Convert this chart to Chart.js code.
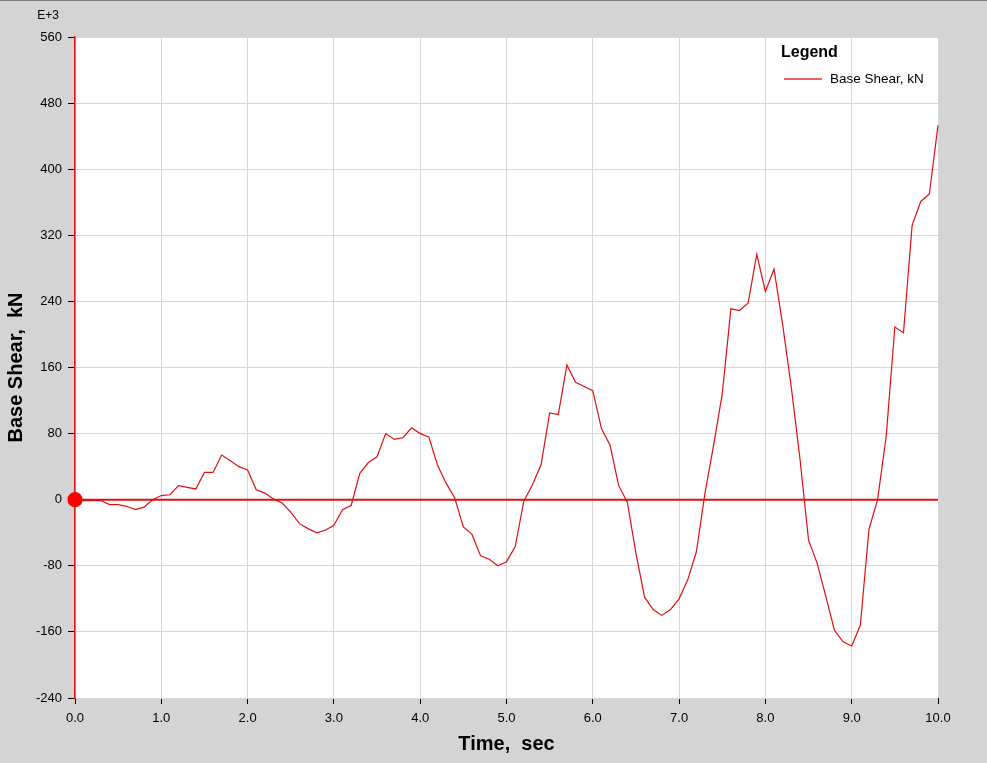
<!DOCTYPE html>
<html>
<head>
<meta charset="utf-8">
<script src="https://cdn.jsdelivr.net/npm/chart.js@4.4.1/dist/chart.umd.min.js"></script>
<style>
    html, body { margin: 0; padding: 0; background: #d4d4d4; }
    #wrap { width: 987px; height: 763px; }
</style>
</head>
<body>
<div id="wrap"><canvas id="shear" width="987" height="763"></canvas></div>
<script>
// 시간 (sec)
const times = [
    0.0, 0.1, 0.2, 0.3, 0.4, 0.5, 0.6, 0.7, 0.8, 0.9,
    1.0, 1.1, 1.2, 1.3, 1.4, 1.5, 1.6, 1.7, 1.8, 1.9,
    2.0, 2.1, 2.2, 2.3, 2.4, 2.5, 2.6, 2.7, 2.8, 2.9,
    3.0, 3.1, 3.2, 3.3, 3.4, 3.5, 3.6, 3.7, 3.8, 3.9,
    4.0, 4.1, 4.2, 4.3, 4.4, 4.5, 4.6, 4.7, 4.8, 4.9,
    5.0, 5.1, 5.2, 5.3, 5.4, 5.5, 5.6, 5.7, 5.8, 5.9,
    6.0, 6.1, 6.2, 6.3, 6.4, 6.5, 6.6, 6.7, 6.8, 6.9,
    7.0, 7.1, 7.2, 7.3, 7.4, 7.5, 7.6, 7.7, 7.8, 7.9,
    8.0, 8.1, 8.2, 8.3, 8.4, 8.5, 8.6, 8.7, 8.8, 8.9,
    9.0, 9.1, 9.2, 9.3, 9.4, 9.5, 9.6, 9.7, 9.8, 9.9,
    10.0
];

// Base Shear (kN, E+3)
const baseShear = [
    0, -1, -1, -1, -6, -6, -8, -12, -9, 0,
    5, 6, 17, 15, 13, 33, 33, 54, 47, 40,
    36, 12, 8, 1, -4, -15, -29, -35, -40, -37,
    -31, -12, -7, 32, 45, 52, 80, 73, 75, 87,
    80, 76, 42, 20, 2, -33, -42, -68, -72, -80,
    -75, -57, -2, 18, 42, 105, 103, 163, 142, 137,
    132, 86, 66, 17, -3, -65, -118, -133, -140, -133,
    -120, -97, -63, 8, 66, 128, 231, 229, 238, 297,
    252, 279, 212, 136, 50, -49, -77, -117, -158, -172,
    -177, -152, -36, 0, 77, 209, 202, 332, 361, 370,
    453
];

// 축 범위
const xRange = [0, 10];
const yRange = [-240, 560];

const FONT = '"Liberation Sans", Arial, sans-serif';
const RED = '#e01010';

// 배경 + 제목 + 범례 그리기
const decor = {
    id: 'decor',
    beforeDraw(chart) {
        const c = chart.ctx;
        const a = chart.chartArea;
        c.save();
        c.fillStyle = '#d4d4d4';
        c.fillRect(0, 0, chart.width, chart.height);
        c.fillStyle = '#7c7c7c';
        c.fillRect(0, 0, chart.width, 1);
        c.fillStyle = '#ffffff';
        c.fillRect(a.left, a.top, a.right - a.left, a.bottom - a.top);
        c.restore();
    },
    afterDraw(chart) {
        const c = chart.ctx;
        const a = chart.chartArea;
        c.save();
        c.fillStyle = '#000';
        c.textBaseline = 'middle';

        c.font = '12px ' + FONT;
        c.textAlign = 'center';
        c.fillText('E+3', 48, 16);

        c.font = 'bold 20px ' + FONT;
        c.fillText('Time,  sec', (a.left + a.right) / 2, 744);

        c.save();
        c.translate(16, (a.top + a.bottom) / 2);
        c.rotate(-Math.PI / 2);
        c.fillText('Base Shear,  kN', 0, 0);
        c.restore();

        // 범례
        c.textAlign = 'left';
        c.font = 'bold 16px ' + FONT;
        c.fillText('Legend', 781, 53);
        c.strokeStyle = '#e03030';
        c.lineWidth = 1.3;
        c.beginPath();
        c.moveTo(784, 79);
        c.lineTo(822, 79);
        c.stroke();
        c.font = '13.5px ' + FONT;
        c.fillText('Base Shear, kN', 830, 79);
        c.restore();
    }
};

const points = times.map((t, i) => ({ x: t, y: baseShear[i] }));

const config = {
    type: 'line',
    data: {
        datasets: [
            {
                label: 'Base Shear, kN',
                data: points,
                borderColor: RED,
                borderWidth: 1.2,
                tension: 0,
                clip: false,
                pointRadius: (ctx) => ctx.dataIndex === 0 ? 7 : 0,
                pointBackgroundColor: '#ff0000',
                pointBorderColor: '#ff0000',
            },
            {
                label: 'zero',
                data: [{ x: xRange[0], y: 0 }, { x: xRange[1], y: 0 }],
                borderColor: RED,
                borderWidth: 2,
                pointRadius: 0,
            }
        ]
    },
    options: {
        responsive: false,
        animation: false,
        layout: {
            padding: { top: 37, right: 49, left: 0, bottom: 0 }
        },
        plugins: {
            legend: { display: false },
            tooltip: { enabled: false },
        },
        scales: {
            x: {
                type: 'linear',
                min: xRange[0],
                max: xRange[1],
                afterFit: (s) => { s.height = 65; },
                grid: {
                    color: '#d6d6d6',
                    tickColor: '#000',
                    tickLength: 6,
                },
                border: { display: false },
                ticks: {
                    stepSize: 1,
                    padding: 7,
                    color: '#000',
                    font: { family: FONT, size: 13 },
                    callback: (v) => v.toFixed(1),
                    maxRotation: 0,
                },
            },
            y: {
                min: yRange[0],
                max: yRange[1],
                afterFit: (s) => { s.width = 75; },
                grid: {
                    color: '#d6d6d6',
                    tickColor: '#000',
                    tickLength: 7,
                },
                border: { color: RED, width: 1.5 },
                ticks: {
                    stepSize: 80,
                    padding: 6,
                    color: '#000',
                    font: { family: FONT, size: 13 },
                },
            },
        },
    },
    plugins: [decor],
};

var ctx = document.getElementById('shear').getContext('2d');
var shearChart = new Chart(ctx, config);
</script>
</body>
</html>
